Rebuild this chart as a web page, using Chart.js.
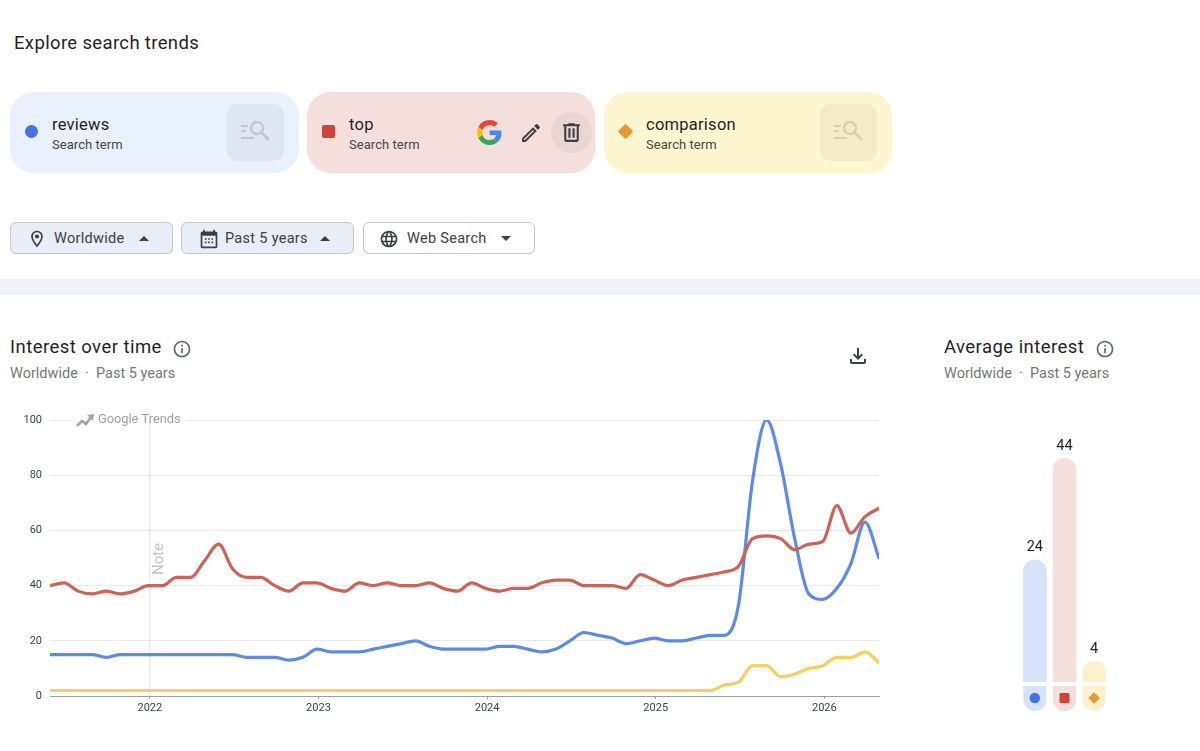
<!DOCTYPE html>
<html>
<head>
<meta charset="utf-8">
<title>Explore search trends</title>
<script src="https://cdn.jsdelivr.net/npm/chart.js@4"></script>
<style>
  html, body { margin: 0; padding: 0; background: #fff; }
  body { position: relative; width: 1200px; height: 751px; overflow: hidden; font-family: Roboto, sans-serif; color: #1f1f1f; }
  .abs, .chip, .tile, .btn, h1, h2, .sub, .term, .kind, .mark, .ico { position: absolute; }
  h1 { left: 14px; top: 31px; margin: 0; font-size: 18.5px; font-weight: 400; line-height: 24px; letter-spacing: .35px; }
  h2 { margin: 0; font-size: 18.5px; font-weight: 400; line-height: 24px; letter-spacing: .45px; top: 335px; }
  .sub { top: 364px; font-size: 14.5px; line-height: 20px; color: #747775; letter-spacing: 0; white-space: pre; }
  .chip { top: 92px; width: 289px; height: 81px; border-radius: 24px; }
  .tile { left: 217px; top: 12px; width: 57px; height: 57px; border-radius: 10px; background: rgba(60,64,67,.055); }
  .tile svg { position: absolute; left: 13px; top: 15px; }
  .term { left: 42px; top: 22px; font-size: 16.5px; line-height: 22px; letter-spacing: .25px; }
  .kind { left: 42px; top: 44px; font-size: 13px; line-height: 18px; color: #444746; letter-spacing: .05px; }
  .mark { left: 15px; top: 33px; width: 13px; height: 13px; }
  .btn { top: 222px; height: 30px; border: 1px solid #c4c7c5; border-radius: 6px; background: #e9edf8; font-size: 14.5px; line-height: 31px; color: #3c4043; letter-spacing: .3px; box-sizing: content-box; }
  .btn span { position: absolute; top: 0; white-space: pre; }
  .btn svg { position: absolute; top: 6px; }
  .caret { position: absolute; top: 13px; width: 0; height: 0; border-left: 5px solid transparent; border-right: 5px solid transparent; }
  .up { border-bottom: 5px solid #3c4043; }
  .down { border-top: 5px solid #3c4043; }
  #band { left: 0; top: 279px; width: 1200px; height: 16px; background: #f0f4f9; }
  canvas { position: absolute; }
</style>
</head>
<body>
<svg width="0" height="0" style="position:absolute">
  <symbol id="i-search" viewBox="0 0 32 26">
    <path d="M1 7h7M1 12h5M1 19h13" stroke="currentColor" stroke-width="2" fill="none"/>
    <circle cx="17" cy="9" r="6" stroke="currentColor" stroke-width="2.4" fill="none"/>
    <path d="M21.5 13.5L29 21" stroke="currentColor" stroke-width="2.6" fill="none"/>
  </symbol>
  <symbol id="i-info" viewBox="0 0 24 24"><path d="M11 7h2v2h-2zm0 4h2v6h-2zm1-9C6.48 2 2 6.48 2 12s4.48 10 10 10 10-4.48 10-10S17.52 2 12 2zm0 18c-4.41 0-8-3.59-8-8s3.59-8 8-8 8 3.59 8 8-3.59 8-8 8z" fill="currentColor"/></symbol>
</svg>

<h1>Explore search trends</h1>

<div class="chip" style="left:10px;background:#e9f1fc">
  <div class="mark" style="background:#4372e3;border-radius:50%"></div>
  <div class="term">reviews</div><div class="kind">Search term</div>
  <div class="tile"><svg width="32" height="26" style="color:#c3c8d0"><use href="#i-search"/></svg></div>
</div>
<div class="chip" style="left:307px;width:288px;background:#f5dfdd">
  <div class="mark" style="background:#d14135;border-radius:2px"></div>
  <div class="term">top</div><div class="kind">Search term</div>
  <svg class="ico" style="left:170px;top:28px" width="25" height="25" viewBox="0 0 48 48">
    <path fill="#EA4335" d="M24 9.5c3.54 0 6.71 1.22 9.21 3.6l6.85-6.85C35.9 2.38 30.47 0 24 0 14.62 0 6.51 5.38 2.56 13.22l7.98 6.19C12.43 13.72 17.74 9.5 24 9.5z"/>
    <path fill="#4285F4" d="M46.98 24.55c0-1.57-.15-3.09-.38-4.55H24v9.02h12.94c-.58 2.96-2.26 5.48-4.78 7.18l7.73 6c4.51-4.18 7.09-10.36 7.09-17.65z"/>
    <path fill="#FBBC05" d="M10.53 28.59c-.48-1.45-.76-2.99-.76-4.59s.27-3.14.76-4.59l-7.98-6.19C.92 16.46 0 20.12 0 24c0 3.88.92 7.54 2.56 10.78l7.97-6.19z"/>
    <path fill="#34A853" d="M24 48c6.48 0 11.93-2.13 15.89-5.81l-7.73-6c-2.15 1.45-4.92 2.3-8.16 2.3-6.26 0-11.57-4.22-13.47-9.91l-7.98 6.19C6.51 42.62 14.62 48 24 48z"/>
  </svg>
  <svg class="ico" style="left:212px;top:29px" width="24" height="24" viewBox="0 0 24 24"><path fill="#3c4043" d="M14.06 9.02l.92.92L5.92 19H5v-.92l9.06-9.06M17.66 3c-.25 0-.51.1-.7.29l-1.83 1.83 3.75 3.75 1.83-1.83c.39-.39.39-1.02 0-1.41l-2.34-2.34c-.2-.2-.45-.29-.71-.29zm-3.6 3.19L3 17.25V21h3.75L17.81 9.94l-3.75-3.75z"/></svg>
  <div class="abs" style="left:244px;top:20px;width:41px;height:41px;border-radius:50%;background:#ead5d3"></div>
  <svg class="ico" style="left:252px;top:28px" width="25" height="25" viewBox="0 0 24 24"><path fill="#3c4043" d="M15 4V3H9v1H4v2h1v13c0 1.1.9 2 2 2h10c1.1 0 2-.9 2-2V6h1V4h-5zm2 15H7V6h10v13zM9 8h2v9H9zm4 0h2v9h-2z"/></svg>
</div>
<div class="chip" style="left:604px;width:288px;background:#fef6cf">
  <div class="mark" style="left:16px;top:34px;width:11px;height:11px;background:#e49a38;transform:rotate(45deg);border-radius:1px"></div>
  <div class="term">comparison</div><div class="kind">Search term</div>
  <div class="tile" style="left:216px"><svg width="32" height="26" style="color:#d9d3ad"><use href="#i-search"/></svg></div>
</div>

<div class="btn" style="left:10px;width:161px">
  <svg style="left:16px" width="20" height="20" viewBox="0 0 24 24"><path fill="#3c4043" d="M12 2C8.13 2 5 5.13 5 9c0 5.25 7 13 7 13s7-7.75 7-13c0-3.87-3.13-7-7-7zM7 9c0-2.76 2.24-5 5-5s5 2.24 5 5c0 2.88-2.88 7.19-5 9.88C9.92 16.21 7 11.85 7 9z"/><circle cx="12" cy="9" r="2.5" fill="#3c4043"/></svg>
  <span style="left:43px">Worldwide</span><i class="caret up" style="left:128px"></i>
</div>
<div class="btn" style="left:181px;width:171px">
  <svg style="left:17px" width="20" height="20" viewBox="0 0 24 24"><path fill="#3c4043" d="M20 3h-1V1h-2v2H7V1H5v2H4c-1.1 0-2 .9-2 2v16c0 1.1.9 2 2 2h16c1.1 0 2-.9 2-2V5c0-1.1-.9-2-2-2zm0 18H4V8h16v13zM7 11h2v2H7zm4 0h2v2h-2zm4 0h2v2h-2zM7 15h2v2H7zm4 0h2v2h-2zm4 0h2v2h-2z"/></svg>
  <span style="left:43px">Past 5 years</span><i class="caret up" style="left:138px"></i>
</div>
<div class="btn" style="left:363px;width:170px;background:#fff">
  <svg style="left:15px" width="20" height="20" viewBox="0 0 24 24"><path fill="#3c4043" d="M11.99 2C6.47 2 2 6.48 2 12s4.47 10 9.99 10C17.52 22 22 17.52 22 12S17.52 2 11.99 2zm6.93 6h-2.95c-.32-1.25-.78-2.45-1.38-3.56 1.84.63 3.37 1.91 4.33 3.56zM12 4.04c.83 1.2 1.48 2.53 1.91 3.96h-3.82c.43-1.43 1.08-2.76 1.91-3.96zM4.26 14C4.1 13.36 4 12.69 4 12s.1-1.36.26-2h3.38c-.08.66-.14 1.32-.14 2 0 .68.06 1.34.14 2H4.26zm.82 2h2.95c.32 1.25.78 2.45 1.38 3.56-1.84-.63-3.37-1.9-4.33-3.56zm2.95-8H5.08c.96-1.66 2.49-2.93 4.33-3.56C8.81 5.55 8.35 6.75 8.03 8zM12 19.96c-.83-1.2-1.48-2.53-1.91-3.96h3.82c-.43 1.43-1.08 2.76-1.91 3.96zM14.34 14H9.66c-.09-.66-.16-1.32-.16-2 0-.68.07-1.35.16-2h4.68c.09.65.16 1.32.16 2 0 .68-.07 1.34-.16 2zm.25 5.56c.6-1.11 1.06-2.31 1.38-3.56h2.95c-.96 1.65-2.49 2.93-4.33 3.56zM16.36 14c.08-.66.14-1.32.14-2 0-.68-.06-1.34-.14-2h3.38c.16.64.26 1.31.26 2s-.1 1.36-.26 2h-3.38z"/></svg>
  <span style="left:43px">Web Search</span><i class="caret down" style="left:137px"></i>
</div>

<div id="band" class="abs"></div>

<h2 style="left:10px">Interest over time</h2>
<svg class="ico" style="left:172px;top:339px;color:#5f6368" width="20" height="20"><use href="#i-info"/></svg>
<div class="sub" style="left:10px">Worldwide  ·  Past 5 years</div>
<svg class="ico" style="left:846px;top:344px" width="24" height="24" viewBox="0 0 24 24"><path fill="#3c4043" d="M18 15v3H6v-3H4v3c0 1.1.9 2 2 2h12c1.1 0 2-.9 2-2v-3h-2zm-1-4l-1.41-1.41L13 12.17V4h-2v8.17L8.41 9.59 7 11l5 5 5-5z"/></svg>

<h2 style="left:944px">Average interest</h2>
<svg class="ico" style="left:1095px;top:339px;color:#5f6368" width="20" height="20"><use href="#i-info"/></svg>
<div class="sub" style="left:944px">Worldwide  ·  Past 5 years</div>

<canvas id="lineChart" style="left:0;top:400px" width="900" height="330"></canvas>
<canvas id="barChart" style="left:940px;top:420px" width="260" height="310"></canvas>

<script>
// monthly points, Jun 2021 to May 2026
const months = [
  '2021-06','2021-07','2021-08','2021-09','2021-10','2021-11','2021-12',
  '2022-01','2022-02','2022-03','2022-04','2022-05','2022-06','2022-07','2022-08','2022-09','2022-10','2022-11','2022-12',
  '2023-01','2023-02','2023-03','2023-04','2023-05','2023-06','2023-07','2023-08','2023-09','2023-10','2023-11','2023-12',
  '2024-01','2024-02','2024-03','2024-04','2024-05','2024-06','2024-07','2024-08','2024-09','2024-10','2024-11','2024-12',
  '2025-01','2025-02','2025-03','2025-04','2025-05','2025-06','2025-07','2025-08','2025-09','2025-10','2025-11','2025-12',
  '2026-01','2026-02','2026-03','2026-04','2026-05'
];
const reviews = [
  15,15,15,15,14,15,15,
  15,15,15,15,15,15,15,14,14,14,13,14,
  17,16,16,16,17,18,19,20,18,17,17,17,
  17,18,18,17,16,17,20,23,22,21,19,20,
  21,20,20,21,22,22,33,78,100,84,57,37,
  35,39,48,63,50
];
const top_ = [
  40,41,38,37,38,37,38,
  40,40,43,43,49,55,46,43,43,40,38,41,
  41,39,38,41,40,41,40,40,41,39,38,41,
  39,38,39,39,41,42,42,40,40,40,39,44,
  42,40,42,43,44,45,47,57,58,57,53,55,
  56,69,59,65,68
];
const comparison = [
  2,2,2,2,2,2,2,
  2,2,2,2,2,2,2,2,2,2,2,2,
  2,2,2,2,2,2,2,2,2,2,2,2,
  2,2,2,2,2,2,2,2,2,2,2,2,
  2,2,2,2,2,4,5,11,11,7,8,10,
  11,14,14,16,12
];
const yearTicks = [2022, 2023, 2024, 2025, 2026];
const yTicks = [0, 20, 40, 60, 80, 100];
const noteYear = 2022;

const terms = ['reviews', 'top', 'comparison'];
const averages = [24, 44, 4];

const barColors = ['#d5e2fa', '#f5dfdd', '#fcf0cd'];
const markColors = ['#4372e3', '#d14135', '#e49a38'];
const font = 'Roboto, sans-serif';

// each monthly sample sits a few days before the first of its month
const monthPos = months.map(m => {
  const [y, mo] = m.split('-').map(Number);
  return y + (mo - 1) / 12 - 0.009;
});
const toPoints = values => values.map((v, i) => ({ x: monthPos[i], y: v }));

// grid break behind the logo, the note line and its label
const notePlugin = {
  id: 'note',
  beforeDatasetsDraw(chart) {
    const { ctx, scales, chartArea } = chart;
    const x = scales.x.getPixelForValue(noteYear);
    ctx.save();
    ctx.fillStyle = '#fff';
    ctx.fillRect(72, chartArea.top - 4, 114, 8);
    ctx.strokeStyle = '#dfe1e5';
    ctx.lineWidth = 1;
    ctx.beginPath();
    ctx.moveTo(x, chartArea.top);
    ctx.lineTo(x, chartArea.bottom);
    ctx.stroke();
    // trends logo
    ctx.strokeStyle = '#a3a3a3';
    ctx.lineWidth = 2.6;
    ctx.beginPath();
    ctx.moveTo(77, 26);
    ctx.lineTo(82, 21);
    ctx.lineTo(86, 24);
    ctx.lineTo(91, 17);
    ctx.stroke();
    ctx.fillStyle = '#a3a3a3';
    ctx.beginPath();
    ctx.moveTo(87, 15);
    ctx.lineTo(94, 14);
    ctx.lineTo(93, 21);
    ctx.fill();
    ctx.font = '12.8px ' + font;
    ctx.fillStyle = '#a0a0a0';
    ctx.textBaseline = 'middle';
    ctx.fillText('Google Trends', 98, 20);
    // note
    ctx.translate(x + 9, 159);
    ctx.rotate(-Math.PI / 2);
    ctx.font = '15px ' + font;
    ctx.fillStyle = '#c2c2c2';
    ctx.textAlign = 'center';
    ctx.fillText('Note', 0, 0);
    ctx.restore();
  }
};

new Chart(document.getElementById('lineChart'), {
  type: 'line',
  plugins: [notePlugin],
  data: {
    datasets: [
      { label: 'reviews', data: toPoints(reviews), borderColor: '#5f8ae3', order: 3 },
      { label: 'top', data: toPoints(top_), borderColor: '#cd6256', order: 2 },
      { label: 'comparison', data: toPoints(comparison), borderColor: '#f6cf62', order: 1 }
    ]
  },
  options: {
    responsive: false,
    animation: false,
    layout: { padding: { top: 20, right: 21, left: 0, bottom: 0 } },
    elements: {
      point: { radius: 0 },
      line: { borderWidth: 3.2, cubicInterpolationMode: 'monotone', borderCapStyle: 'round', borderJoinStyle: 'round' }
    },
    plugins: { legend: { display: false }, tooltip: { enabled: false } },
    scales: {
      x: {
        type: 'linear',
        min: monthPos[0],
        max: monthPos[monthPos.length - 1],
        afterFit(scale) { scale.height = 34; },
        afterBuildTicks(scale) { scale.ticks = yearTicks.map(v => ({ value: v })); },
        border: { color: '#9aa0a6', width: 1 },
        grid: { drawOnChartArea: false, tickLength: 3, color: '#9aa0a6' },
        ticks: {
          autoSkip: false,
          maxRotation: 0,
          padding: 3,
          color: '#3c4043',
          font: { family: font, size: 11 },
          callback: value => String(value)
        }
      },
      y: {
        min: 0,
        max: 100,
        afterFit(scale) { scale.width = 50; },
        afterBuildTicks(scale) { scale.ticks = yTicks.map(v => ({ value: v })); },
        border: { display: false },
        grid: { color: '#e8eaed', drawTicks: false },
        ticks: { padding: 8, color: '#3c4043', font: { family: font, size: 11 } }
      }
    }
  }
});

// value above each bar, and the little pill with the series marker below it
const pillPlugin = {
  id: 'pills',
  afterDatasetsDraw(chart) {
    const { ctx } = chart;
    chart.getDatasetMeta(0).data.forEach((bar, i) => {
      const base = chart.chartArea.bottom;
      const w = bar.width;
      const left = bar.x - w / 2;
      ctx.save();
      ctx.fillStyle = barColors[i];
      ctx.beginPath();
      ctx.roundRect(left, base + 4, w, 25, [0, 0, w / 2, w / 2]);
      ctx.fill();
      const cy = base + 16;
      ctx.fillStyle = markColors[i];
      ctx.beginPath();
      if (i === 0) ctx.arc(bar.x, cy, 5.2, 0, Math.PI * 2);
      if (i === 1) ctx.roundRect(bar.x - 5, cy - 5, 10, 10, 1.5);
      if (i === 2) { ctx.moveTo(bar.x, cy - 5.8); ctx.lineTo(bar.x + 5.8, cy); ctx.lineTo(bar.x, cy + 5.8); ctx.lineTo(bar.x - 5.8, cy); ctx.closePath(); }
      ctx.fill();
      ctx.fillStyle = '#1f1f1f';
      ctx.font = '14.5px ' + font;
      ctx.textAlign = 'center';
      ctx.textBaseline = 'middle';
      ctx.fillText(String(averages[i]), bar.x, bar.y - 12.5);
      ctx.restore();
    });
  }
};

new Chart(document.getElementById('barChart'), {
  type: 'bar',
  plugins: [pillPlugin],
  data: {
    labels: terms,
    datasets: [{
      data: averages,
      backgroundColor: barColors,
      barThickness: 23,
      borderSkipped: false,
      borderRadius: { topLeft: 12, topRight: 12, bottomLeft: 0, bottomRight: 0 }
    }]
  },
  options: {
    responsive: false,
    animation: false,
    layout: { padding: { top: 8, bottom: 48, left: 80, right: 91 } },
    plugins: { legend: { display: false }, tooltip: { enabled: false } },
    scales: {
      x: { display: false },
      y: { display: false, min: 0, max: 50 }
    }
  }
});
</script>
</body>
</html>
